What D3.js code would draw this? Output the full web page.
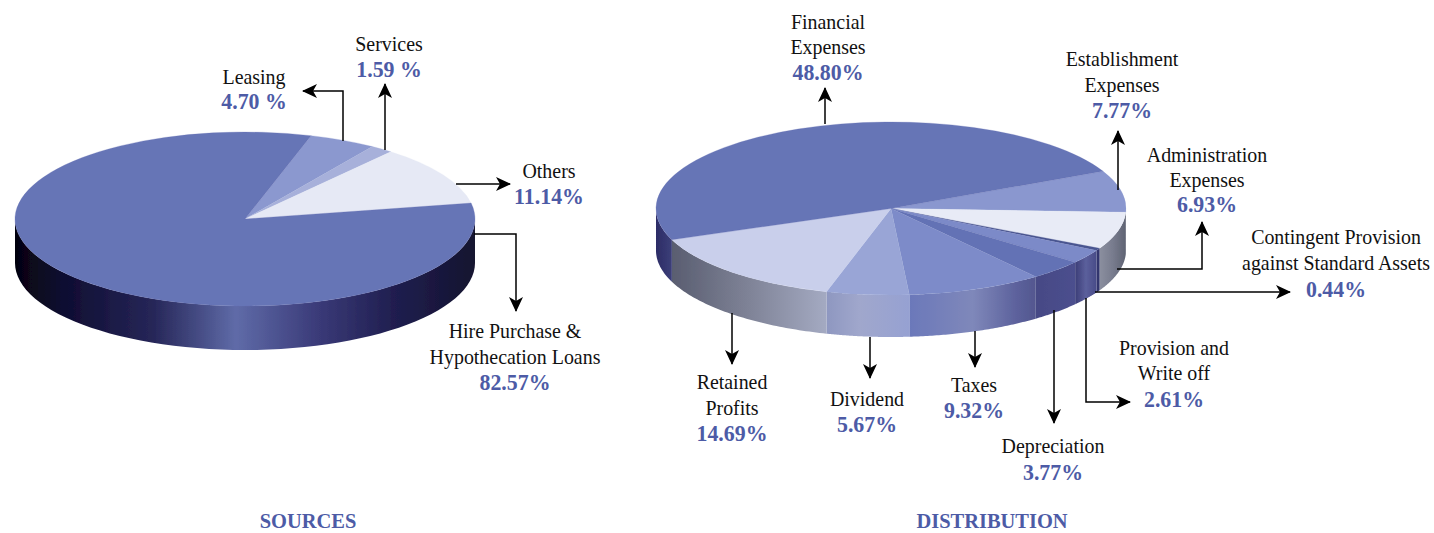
<!DOCTYPE html>
<html>
<head>
<meta charset="utf-8">
<script src="https://cdnjs.cloudflare.com/ajax/libs/d3/7.8.5/d3.min.js"></script>
<style>
  html, body { margin: 0; padding: 0; background: #fff; }
  text { font-family: "Liberation Serif", serif; text-anchor: middle; }
  .name { font-size: 22px; fill: #111; }
  .val { font-size: 24px; font-weight: bold; fill: #4d5ba6; }
  .title { font-size: 22px; font-weight: bold; fill: #4d5ba6; }
</style>
</head>
<body>
<svg id="chart" width="1434" height="533"></svg>
<script>
// values
var sourceNames = ["Leasing", "Services", "Others", "Hire Purchase & Hypothecation Loans"];
var sourceValues = [4.70, 1.59, 11.14, 82.57];
var distNames = ["Establishment Expenses", "Administration Expenses", "Contingent Provision against Standard Assets",
  "Provision and Write off", "Depreciation", "Taxes", "Dividend", "Retained Profits", "Financial Expenses"];
var distValues = [7.77, 6.93, 0.44, 2.61, 3.77, 9.32, 5.67, 14.69, 48.80];

var svg = d3.select("#chart");
var defs = svg.append("defs");
var rad = Math.PI / 180;

defs.append("marker").attr("id", "head")
  .attr("viewBox", "-16 -8 18 16").attr("markerUnits", "userSpaceOnUse")
  .attr("markerWidth", 18).attr("markerHeight", 16).attr("orient", "auto")
  .append("path").attr("d", "M1,0 L-14,-7 L-10,0 L-14,7 Z").attr("fill", "#000");

defs.append("filter").attr("id", "soft").attr("x", "-2%").attr("y", "-2%").attr("width", "104%").attr("height", "104%")
  .append("feGaussianBlur").attr("stdDeviation", 0.6);

var sourceTop = ["#8b98cf", "#a7b0da", "#e6e9f5", "#6674b6"];
var sourceSide = [null, null, null,
  [[0, "#05040f"], [0.1, "#0e0c30"], [0.3, "#262658"], [0.48, "#5f6ba8"], [0.66, "#3a3a78"], [0.82, "#201f50"], [1, "#14122f"]]];

var distTop = ["#8a97cf", "#e8ebf6", "#4a5590", "#7c8ac8", "#6472b5", "#7d8bc9", "#99a5d6", "#c9cfeb", "#6674b6"];
var distSide = [
  [[0, "#6e7284"], [1, "#6e7284"]],
  [[0, "#8b8f9f"], [0.5, "#787c8e"], [1, "#5f6373"]],
  [[0, "#33366e"], [1, "#33366e"]],
  [[0, "#3c3e78"], [0.5, "#5b5f9c"], [1, "#484b88"]],
  [[0, "#464985"], [1, "#4c4f8e"]],
  [[0, "#6b78ba"], [0.5, "#7f88ba"], [0.85, "#5c619c"], [1, "#53578f"]],
  [[0, "#8e97c0"], [0.4, "#a0a7cc"], [1, "#96a1d2"]],
  [[0, "#595d70"], [0.5, "#7f8397"], [1, "#a4aac2"]],
  [[0, "#2c2c66"], [1, "#3c3f78"]]
];

function drawPie(name, values, topColors, sideColors, geo) {
  var slices = d3.pie().sort(null)
    .startAngle(geo.start * rad).endAngle(geo.start * rad + 2 * Math.PI)(values);
  var g = svg.append("g").attr("filter", "url(#soft)");
  var flat = geo.ry / geo.rx;

  // the rim, only where the slice faces the viewer
  slices.forEach(function(s, i) {
    var a0 = Math.max(s.startAngle, Math.PI / 2), a1 = Math.min(s.endAngle, 3 * Math.PI / 2);
    if (a1 <= a0 || !sideColors[i]) return;
    var id = name + "-side-" + i;
    var grad = defs.append("linearGradient").attr("id", id);
    sideColors[i].forEach(function(st) {
      grad.append("stop").attr("offset", st[0]).attr("stop-color", st[1]);
    });
    var t = d3.scaleLinear().domain([0, 60]).range([a0, a1]);
    var rim = d3.range(61).map(t);
    var pts = rim.map(function(a) { return [geo.cx + geo.rx * Math.sin(a), geo.cy - geo.ry * Math.cos(a)]; });
    var low = rim.slice().reverse().map(function(a) { return [geo.cx + geo.rx * Math.sin(a), geo.cy - geo.ry * Math.cos(a) + geo.depth]; });
    g.append("path").attr("d", d3.line()(pts.concat(low)) + "Z").attr("fill", "url(#" + id + ")");
  });

  var arc = d3.arc().innerRadius(0).outerRadius(geo.rx);
  g.append("g").attr("transform", "translate(" + geo.cx + "," + geo.cy + ") scale(1," + flat + ")")
    .selectAll("path").data(slices).enter().append("path")
    .attr("d", arc)
    .attr("fill", function(d, i) { return topColors[i]; })
    .attr("stroke", function(d, i) { return topColors[i]; })
    .attr("stroke-width", 0.4);
}

drawPie("src", sourceValues, sourceTop, sourceSide, { cx: 245, cy: 219, rx: 230, ry: 87, depth: 44, start: 16.7 });
drawPie("dst", distValues, distTop, distSide, { cx: 891, cy: 208.5, rx: 235, ry: 86.5, depth: 42, start: 64.5 });

// leader lines, hand placed like in the original artwork
var leaders = [
  [[343, 141], [343, 91], [303, 91]],
  [[385, 150], [385, 84]],
  [[456, 184], [510, 184]],
  [[474, 234], [516, 234], [516, 311]],
  [[825, 124], [825, 88]],
  [[1118, 190], [1118, 131]],
  [[1117, 269], [1202, 269], [1202, 222]],
  [[1095, 292], [1290, 292]],
  [[1086, 298], [1086, 402], [1130, 402]],
  [[1054, 310], [1054, 423]],
  [[975, 331], [975, 367]],
  [[870, 337], [870, 378]],
  [[732, 313], [732, 364]]
];
svg.append("g").selectAll("path").data(leaders).enter().append("path")
  .attr("d", d3.line())
  .attr("fill", "none").attr("stroke", "#000").attr("stroke-width", 1.5)
  .attr("marker-end", "url(#head)");

var labels = [
  [254, 84, "name", "Leasing"], [254, 109, "val", "4.70 %"],
  [389, 51, "name", "Services"], [389, 77, "val", "1.59 %"],
  [549, 178, "name", "Others"], [549, 204, "val", "11.14%"],
  [515, 338, "name", "Hire Purchase &"], [515, 364, "name", "Hypothecation Loans"], [515, 390, "val", "82.57%"],
  [828, 29, "name", "Financial"], [828, 54, "name", "Expenses"], [828, 80, "val", "48.80%"],
  [1122, 66, "name", "Establishment"], [1122, 92, "name", "Expenses"], [1122, 118, "val", "7.77%"],
  [1207, 162, "name", "Administration"], [1207, 187, "name", "Expenses"], [1207, 212, "val", "6.93%"],
  [1336, 244, "name", "Contingent Provision"], [1336, 270, "name", "against Standard Assets"], [1336, 297, "val", "0.44%"],
  [1174, 355, "name", "Provision and"], [1174, 380, "name", "Write off"], [1174, 407, "val", "2.61%"],
  [1053, 453, "name", "Depreciation"], [1053, 480, "val", "3.77%"],
  [974, 392, "name", "Taxes"], [974, 418, "val", "9.32%"],
  [867, 406, "name", "Dividend"], [867, 432, "val", "5.67%"],
  [732, 389, "name", "Retained"], [732, 415, "name", "Profits"], [732, 441, "val", "14.69%"],
  [308, 528, "title", "SOURCES"], [992, 528, "title", "DISTRIBUTION"]
];
// the artwork's type is a tall, narrow serif, so squeeze the nearest installed font
var squeeze = { name: 0.905, val: 0.91, title: 0.93 };
svg.append("g").selectAll("text").data(labels).enter().append("text")
  .attr("transform", function(d) { return "translate(" + d[0] + "," + d[1] + ") scale(" + squeeze[d[2]] + ",1)"; })
  .attr("class", function(d) { return d[2]; })
  .text(function(d) { return d[3]; });
</script>
</body>
</html>
